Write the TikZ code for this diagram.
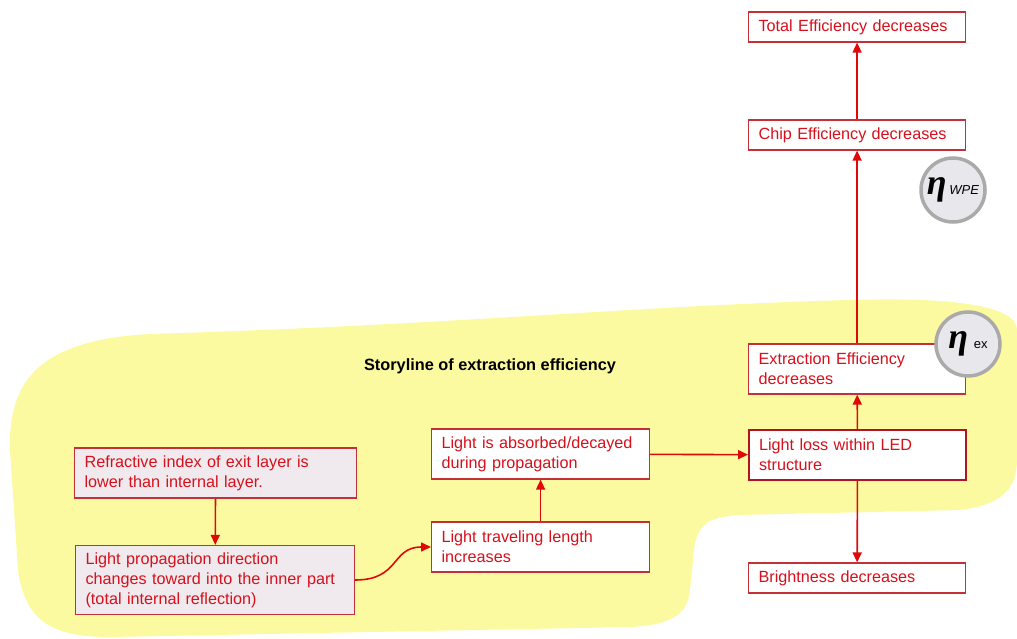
\documentclass[tikz,border=0pt]{standalone}
\usepackage{fontspec}
\setmainfont{Liberation Sans}
\newfontfamily\etafont{Liberation Serif}
\usetikzlibrary{arrows.meta}

\definecolor{blobyellow}{RGB}{252,250,160}
\definecolor{boxred}{RGB}{196,48,56}
\definecolor{lossred}{RGB}{176,20,30}
\definecolor{textred}{RGB}{214,16,28}
\definecolor{arrowred}{RGB}{222,10,10}
\definecolor{pinkgray}{RGB}{240,234,238}
\definecolor{bubblegray}{RGB}{232,232,236}
\definecolor{rimgray}{RGB}{170,170,170}

\tikzset{
    effbox/.style={draw=boxred, line width=1.2pt, fill=white, text=textred,
        font=\fontsize{16.2}{20}\selectfont, align=left, anchor=west,
        inner xsep=10pt, inner ysep=0pt, text width=197pt, minimum height=30pt},
    causebox/.style={effbox, fill=pinkgray, text width=262pt},
    etabubble/.style={circle, draw=rimgray, line width=3.5pt, fill=bubblegray,
        minimum size=64pt, inner sep=0pt},
    flow/.style={draw=arrowred, line width=1.6pt, -{Triangle[length=10pt,width=9pt]}}
}
\newcommand{\etasym}{{\etafont\bfseries\itshape\fontsize{36}{36}\selectfont η}}

\begin{document}
\begin{tikzpicture}[x=1pt, y=-1pt]
    \useasboundingbox (0,0) rectangle (1017,639);
    % storyline background
    \fill[blobyellow] (150,334) .. controls (450,325) and (650,305) .. (850,300)
        .. controls (950,297) and (1017,305) .. (1017,330) -- (1017,460)
        .. controls (1017,490) and (1000,505) .. (960,510) -- (740,515)
        .. controls (705,517) and (695,525) .. (693,560) -- (690,590)
        .. controls (688,615) and (670,625) .. (630,627) -- (110,637)
        .. controls (50,637) and (25,620) .. (18,570) -- (10,450)
        .. controls (8,380) and (40,340) .. (150,334) -- cycle;

    \node[font=\bfseries\fontsize{16.3}{18}\selectfont] (title) at (490,366) {Storyline of extraction efficiency};

    % right column
    \node[effbox] (total) at (748,27) {Total Efficiency decreases};
    \node[effbox] (chip) at (748,135) {Chip Efficiency decreases};
    \node[effbox, minimum height=50pt] (extr) at (748,369) {Extraction Efficiency\\decreases};
    \node[effbox, minimum height=50pt, draw=lossred, line width=2pt] (loss) at (748,455) {Light loss within LED\\structure};
    \node[effbox] (bright) at (748,578) {Brightness decreases};

    % middle column
    \node[effbox, minimum height=50pt, text width=198pt] (absorb) at (431,454) {Light is absorbed/decayed\\during propagation};
    \node[effbox, minimum height=50pt, text width=198pt] (travel) at (431,547) {Light traveling length\\increases};

    % left column
    \node[causebox, minimum height=50pt] (refr) at (74,473) {Refractive index of exit layer is\\lower than internal layer.};
    \node[causebox, minimum height=69pt, text width=259pt] (prop) at (75,580) {Light propagation direction\\changes toward into the inner part\\(total internal reflection)};

    % connectors
    \draw[flow] (refr) -- (prop);
    \draw[flow] (prop.east) .. controls +(45,0) and +(-40,0) .. (travel.west);
    \draw[flow] (travel) -- (absorb);
    \draw[flow] (absorb) -- (loss);
    \draw[flow] (loss) -- (extr);
    \draw[flow] (loss) -- (bright);
    \draw[flow] (extr) -- (chip);
    \draw[flow] (chip) -- (total);

    % efficiency symbols
    \node[etabubble] (wpe) at (953,190) {\etasym\;{\itshape\fontsize{13}{13}\selectfont WPE}};
    \node[etabubble] (ex) at (968,344) {\etasym\;\;{\fontsize{13}{13}\selectfont ex}};
\end{tikzpicture}
\end{document}
